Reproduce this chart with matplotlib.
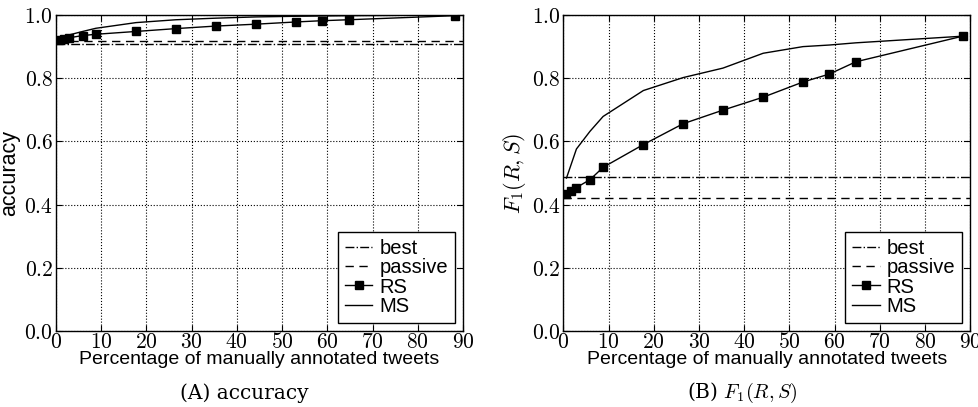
import matplotlib
matplotlib.use("Agg")
import matplotlib.pyplot as plt
from matplotlib.ticker import FormatStrFormatter

plt.rcParams["mathtext.fontset"] = "cm"
plt.rcParams["font.family"] = ["Liberation Sans", "DejaVu Sans"]

# percentage of manually annotated tweets
pct = [0.7, 1.8, 2.9, 5.9, 8.8, 17.7, 26.5, 35.3, 44.2, 53.0, 58.8, 64.7, 88.3]

acc_rs = [0.921, 0.925, 0.928, 0.935, 0.939, 0.948, 0.957, 0.965, 0.971, 0.978, 0.982, 0.985, 0.998]
acc_ms = [0.927, 0.932, 0.937, 0.948, 0.958, 0.976, 0.985, 0.990, 0.994, 0.996, 0.997, 0.998, 1.0]
acc_best = 0.909
acc_passive = 0.919

f1_rs = [0.434, 0.444, 0.454, 0.479, 0.518, 0.590, 0.656, 0.699, 0.740, 0.788, 0.813, 0.852, 0.933]
f1_ms = [0.484, 0.530, 0.576, 0.632, 0.679, 0.761, 0.802, 0.832, 0.879, 0.900, 0.905, 0.912, 0.933]
f1_best = 0.487
f1_passive = 0.421

xticks = list(range(0, 100, 10))
yticks = [0.0, 0.2, 0.4, 0.6, 0.8, 1.0]

fig = plt.figure(figsize=(9.79, 4.07), dpi=100)
ax_l = fig.add_axes([0.0572, 0.1867, 0.4157, 0.7764])
ax_r = fig.add_axes([0.5754, 0.1867, 0.4157, 0.7764])

panels = [
    (ax_l, acc_rs, acc_ms, acc_best, acc_passive, "accuracy", 15.5),
    (ax_r, f1_rs, f1_ms, f1_best, f1_passive, r"$F_1(R,S)$", 16),
]

for ax, rs, ms, best, passive, ylab, ysize in panels:
    ax.axhline(best, color="k", lw=1, ls="-.", label="best")
    ax.axhline(passive, color="k", lw=1, ls=(0, (6, 4)), label="passive")
    ax.plot(pct, rs, color="k", lw=1, marker="s", markersize=5.5, label="RS")
    ax.plot(pct, ms, color="k", lw=1, label="MS")

    ax.set_xlim(0, 90)
    ax.set_ylim(0, 1)
    ax.set_xticks(xticks)
    ax.set_yticks(yticks)
    ax.xaxis.set_major_formatter(FormatStrFormatter("$%d$"))
    ax.yaxis.set_major_formatter(FormatStrFormatter("$%.1f$"))
    ax.tick_params(direction="in", top=True, right=True, length=4,
                   labelsize=15.5, pad=2)
    ax.tick_params(axis="x", pad=1)
    ax.grid(True, color="k", ls=":", lw=0.8)
    for sp in ax.spines.values():
        sp.set_linewidth(1)

    ax.set_xlabel("Percentage of manually annotated tweets", fontsize=14)
    ax.xaxis.set_label_coords(0.5, -0.062)
    ax.set_ylabel(ylab, fontsize=ysize)
    ax.yaxis.set_label_coords(-0.087, 0.5)

    leg = ax.legend(loc="lower right", fontsize=14.5, fancybox=False,
                    framealpha=1, edgecolor="k", labelspacing=0.02,
                    handlelength=1.35, handletextpad=0.35,
                    borderaxespad=0.4, borderpad=0.35)
    leg.get_frame().set_linewidth(1)

fig.text(0.25, 0.035, "(A) accuracy", family="DejaVu Serif", fontsize=14.5,
         ha="center", va="center")
fig.text(0.758, 0.035, r"(B) $F_1(R,S)$", family="DejaVu Serif", fontsize=14.5,
         ha="center", va="center")

fig.savefig("out.png", dpi=100)
